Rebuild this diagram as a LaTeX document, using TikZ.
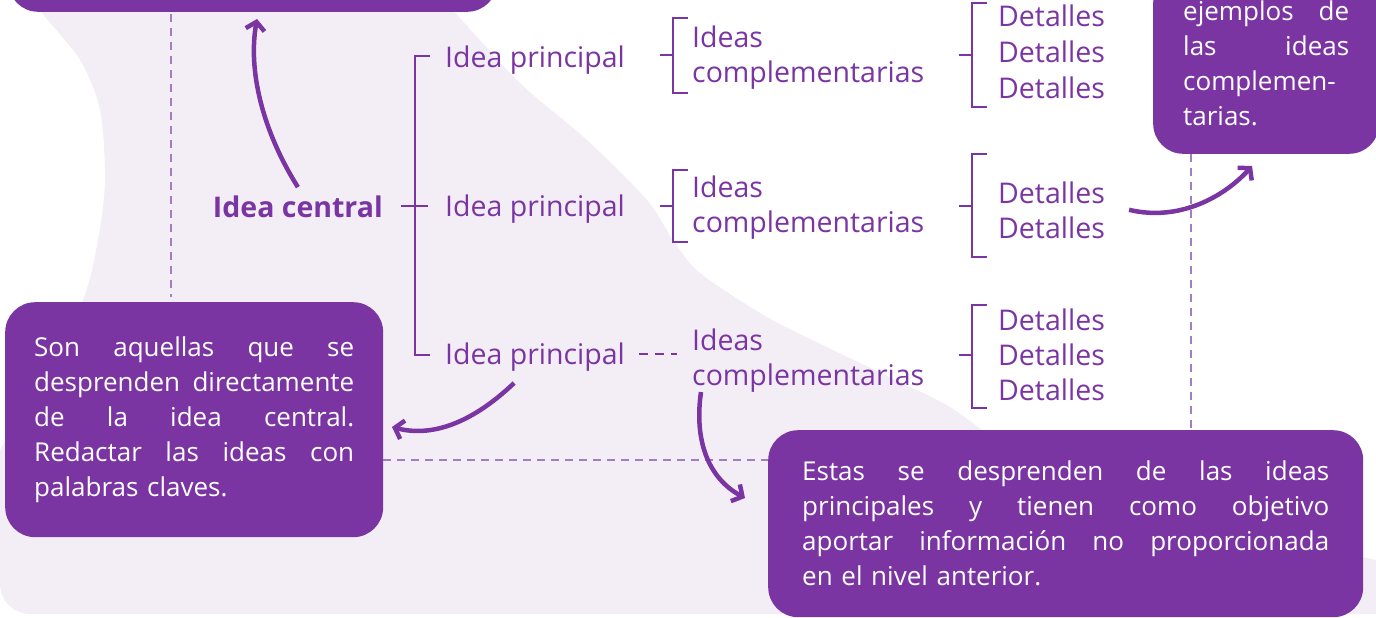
\documentclass[tikz,border=0pt]{standalone}
\usepackage{fontspec}
\setmainfont{Open Sans}
\usetikzlibrary{arrows.meta,calc}
\definecolor{plum}{HTML}{7A35A3}
\definecolor{lilac}{HTML}{F3EEF6}
\definecolor{guideline}{HTML}{A47CC2}
\newcommand{\fullline}[2]{\makebox[#1][s]{\spaceskip=0pt\xspaceskip=0pt\relax #2}}

\begin{document}
\begin{tikzpicture}[x=1pt,y=-1pt]
    \tikzset{txt/.style = {anchor=base west, inner sep=0pt, text=plum, font=\fontsize{28.5}{35}\selectfont},
             box/.style = {fill=plum, text=white, rounded corners=30pt, inner xsep=29pt, align=left, font=\fontsize{26}{35}\selectfont},
             brk/.style = {draw=plum, line width=2.5pt},
             guide/.style = {draw=guideline, line width=1.8pt, dash pattern=on 8pt off 6pt},
             arr/.style = {draw=plum, line width=4.5pt, -{Straight Barb[length=8pt,width=19pt]}}}
    \useasboundingbox (0,0) rectangle (1376,618);
    \clip (0,0) rectangle (1376,618);

    % Light background shape
    \fill[lilac] (25,-20) -- (445,-20)
        -- plot[smooth] coordinates {(453,10) (520,83) (587,140) (647,200) (673,240) (700,273) (767,317) (833,350) (900,382) (950,407) (995,440) (1060,490)}
        -- (1376,560) -- (1376,614) [rounded corners=30pt] -- (0,614) [sharp corners] -- (0,450)
        -- plot[smooth] coordinates {(0,450) (45,370) (83,300) (98,240) (105,180) (100,110) (80,60) (40,10) (25,-20)}
        -- cycle;

    % Boxes
    \node[box, minimum width=489pt, minimum height=100pt, anchor=south west] (tl) at (8,12) {};
    \node[box, text width=320pt, minimum height=235pt, anchor=north west] (son) at (5,302)
        {\fullline{320pt}{Son aquellas que se}\\ \fullline{320pt}{desprenden directamente}\\
         \fullline{320pt}{de la idea central.}\\ \fullline{320pt}{Redactar las ideas con}\\ palabras claves.};
    \node[box, text width=527pt, inner xsep=34pt, minimum height=187pt, anchor=north west] (estas) at (768,430)
        {\fullline{527pt}{Estas se desprenden de las ideas}\\ \fullline{527pt}{principales y tienen como objetivo}\\
         \fullline{527pt}{aportar información no proporcionada}\\ en el nivel anterior.};
    \node[box, text width=166pt, inner xsep=30pt, inner ysep=28pt, anchor=south west] (ej) at (1153,154)
        {\fullline{166pt}{ejemplos de}\\ \fullline{166pt}{las ideas}\\ complemen-\\ tarias.};

    % Dashed guides between the boxes
    \draw[guide, shorten <=2pt, shorten >=5pt] (171,0 |- tl.south) -- (171,0 |- son.north);
    \draw[guide] (son.east |- 0,460) -- (estas.west |- 0,460);
    \draw[guide] (1191,0 |- ej.south) -- (1191,0 |- estas.north);

    % Texts of the scheme
    \node[txt, anchor=base east, font=\fontsize{28.5}{35}\selectfont\bfseries] (central) at (383,217) {Idea central};
    \foreach \y/\name in {67/p1, 216/p2, 364/p3}
        \node[txt] (\name) at (445,\y) {Idea principal};
    \foreach \y/\name in {48/i1, 197/i2, 350/i3}
        \node[txt] (\name) at (692,\y) {Ideas};
    \foreach \y/\name in {82/c1, 232/c2, 385/c3}
        \node[txt] (\name) at (692,\y) {complementarias};
    \foreach \y/\name in {27/d11, 63/d12, 98/d13, 203/d21, 238/d22, 330/d31, 365/d32, 400/d33}
        \node[txt] (\name) at (998,\y) {Detalles};

    % Brackets
    \draw[brk] (430,56) -- (415,56) -- (415,355) -- (430,355);
    \draw[brk] ([xshift=18pt]central.east |- 0,206) -- ([xshift=-17pt]p2.west |- 0,206);
    \foreach \x/\top/\bot/\mid in {673/18/93/55, 673/170/242/206, 972/3/107/55, 972/154/257/206, 972/305/408/355}
        \draw[brk] (\x-13,\mid) -- (\x,\mid) (\x+15,\top) -- (\x,\top) -- (\x,\bot) -- (\x+15,\bot);
    \draw[brk, dash pattern=on 9pt off 7pt, shorten <=14pt, shorten >=15pt] (p3.east |- 0,354) -- (i3.west |- 0,354);

    % Arrows to the boxes
    \coordinate (t1) at (257,19);
    \coordinate (t2) at (392,427);
    \coordinate (t3) at (745,498);
    \coordinate (t4) at (1252,166);
    \draw[arr] ([yshift=8pt]central.north) .. controls (262,130) and (248,70) .. (t1);
    \draw[arr] ($(p3.south)+(-21,12)$) .. controls (470,425) and (430,437) .. (t2);
    \draw[arr] ($(c3.south west)+(9,0)$) .. controls (694,440) and (708,478) .. (t3);
    \draw[arr] ($(d21.east)!.5!(d22.east)+(24,0)$) .. controls (1180,222) and (1225,196) .. (t4);
\end{tikzpicture}
\end{document}
